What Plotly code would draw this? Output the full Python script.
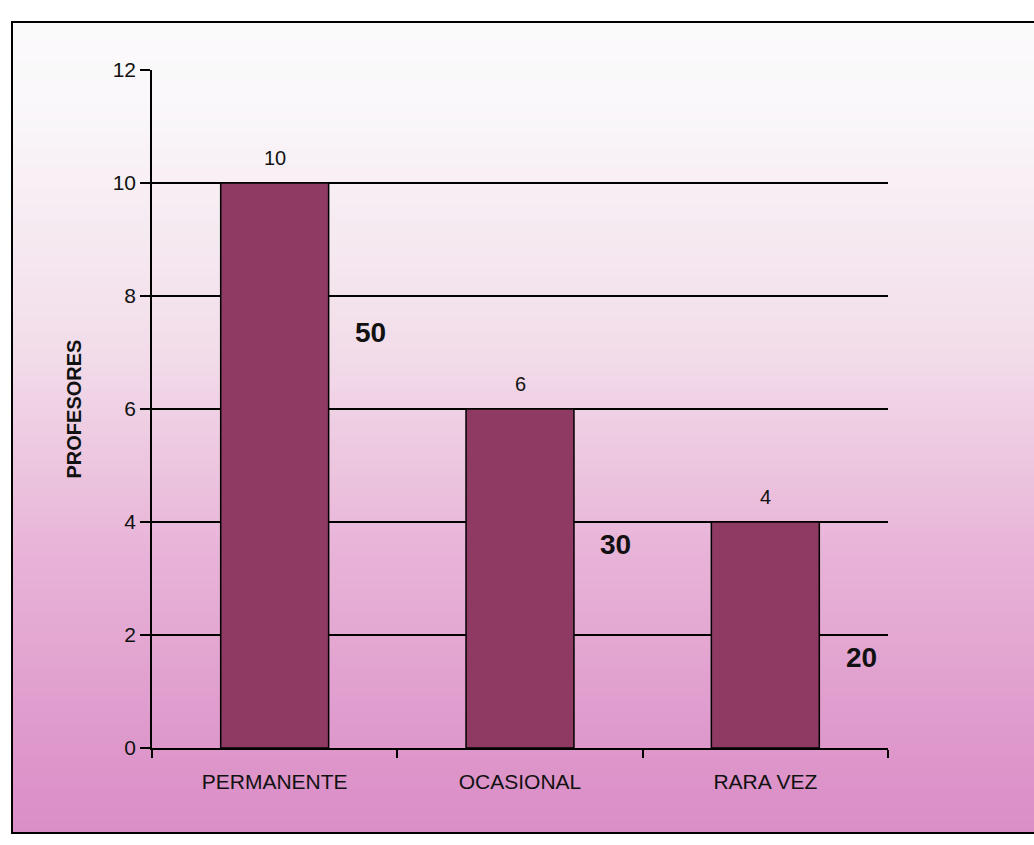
import plotly.graph_objects as go

categories = ["PERMANENTE", "OCASIONAL", "RARA VEZ"]
profesores = [10, 6, 4]
porcentajes = [50, 30, 20]
pct_label_y = [7.35, 3.6, 1.6]
y_ticks = [0, 2, 4, 6, 8, 10, 12]

W, H = 1034, 845
ML, MR, MT, MB = 152, 146, 70, 97
PW, PH = W - ML - MR, H - MT - MB

def px_x(px):
    return (px - ML) / PW

def px_y(py):
    return (H - MB - py) / PH

fig = go.Figure()
fig.add_trace(go.Bar(
    x=categories, y=profesores, width=0.44,
    marker=dict(color="#8e3a63", line=dict(color="black", width=1.5)),
    showlegend=False, hoverinfo="x+y",
))

for i, v in enumerate(profesores):
    fig.add_annotation(x=i, y=v, xref="x", yref="y", text=str(v),
                       showarrow=False, yanchor="bottom", yshift=12,
                       font=dict(family="Liberation Sans, Arial", size=20, color="#111"))

for i, (p, yy) in enumerate(zip(porcentajes, pct_label_y)):
    fig.add_annotation(x=i + 0.39, y=yy, xref="x", yref="y", text=f"<b>{p}</b>",
                       showarrow=False, xanchor="center",
                       font=dict(family="Liberation Sans, Arial", size=28, color="#111"))

# background gradient strips (inside frame)
stops = [(22, (251, 250, 251)), (100, (250, 248, 250)), (350, (242, 221, 233)),
         (550, (232, 180, 216)), (760, (221, 150, 202)), (835, (218, 142, 198))]

def col_at(py):
    for (a, ca), (b, cb) in zip(stops[:-1], stops[1:]):
        if a <= py <= b:
            t = (py - a) / (b - a)
            return tuple(round(ca[k] + (cb[k] - ca[k]) * t) for k in range(3))
    return stops[-1][1]

shapes = []
top, bot, left, right = 22, 833, 12, 1060
step = 8
py = top
while py < bot:
    nxt = min(py + step, bot)
    c = col_at((py + nxt) / 2)
    shapes.append(dict(type="rect", xref="paper", yref="paper",
                       x0=px_x(left), x1=px_x(right),
                       y0=px_y(nxt + 0.5), y1=px_y(py - 0.5),
                       fillcolor=f"rgb{c}", line=dict(width=0), layer="below"))
    py = nxt
shapes.append(dict(type="rect", xref="paper", yref="paper",
                   x0=px_x(left), x1=px_x(right), y0=px_y(bot), y1=px_y(top),
                   line=dict(color="black", width=2), fillcolor="rgba(0,0,0,0)",
                   layer="above"))

fig.update_layout(
    width=W, height=H,
    margin=dict(l=ML, r=MR, t=MT, b=MB),
    paper_bgcolor="white", plot_bgcolor="rgba(0,0,0,0)",
    shapes=shapes,
    font=dict(family="Liberation Sans, Arial", color="#111"),
)
fig.update_xaxes(
    type="category", range=[-0.5, 2.5],
    showline=True, linecolor="black", linewidth=1.5,
    ticks="outside", tickson="boundaries", ticklen=8, tickcolor="black", tickwidth=1.5,
    ticklabelstandoff=14,
    tickfont=dict(family="Liberation Sans, Arial", size=21, color="#111"),
    showgrid=False,
)
fig.update_yaxes(
    range=[0, 12], tickvals=y_ticks,
    showline=True, linecolor="black", linewidth=1.5,
    ticks="outside", ticklen=10, tickcolor="black", tickwidth=1.5,
    tickfont=dict(family="Liberation Sans, Arial", size=21, color="#111"),
    showgrid=True, gridcolor="black", gridwidth=1.5, zeroline=False,
    title=dict(text="<b>PROFESORES</b>", standoff=26,
               font=dict(family="Liberation Sans, Arial", size=20, color="#111")),
)

fig.write_html("out.html", config={"displayModeBar": False},
               post_script="document.body.style.margin='0';document.body.style.overflow='hidden';")
